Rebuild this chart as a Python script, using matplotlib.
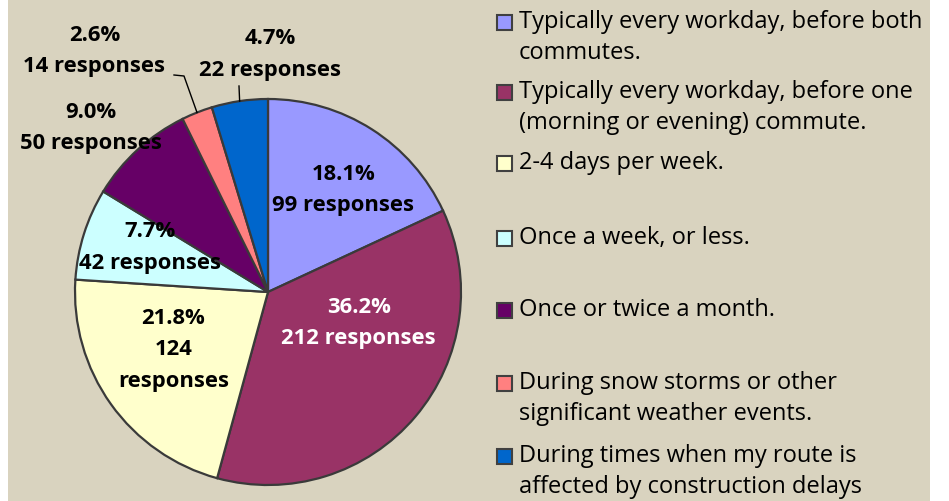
import numpy as np
import matplotlib.pyplot as plt
from matplotlib.patches import Rectangle

categories = [
    "Typically every workday, before both\ncommutes.",
    "Typically every workday, before one\n(morning or evening) commute.",
    "2-4 days per week.",
    "Once a week, or less.",
    "Once or twice a month.",
    "During snow storms or other\nsignificant weather events.",
    "During times when my route is\naffected by construction delays",
]
percents = [18.1, 36.2, 21.8, 7.7, 9.0, 2.6, 4.7]
responses = [99, 212, 124, 42, 50, 14, 22]

colors = ["#9999FF", "#993366", "#FFFFCC", "#CCFFFF", "#660066", "#FF8080", "#0066CC"]
text_colors = ["black", "white", "black", "black", "black", "black", "black"]
# label centres in pie-radius units, relative to the pie centre
label_xy = [(0.39, 0.53), (0.47, -0.16), (-0.49, -0.30), (-0.61, 0.23),
            (-0.92, 0.85), (-0.90, 1.25), (0.01, 1.23)]
legend_rows = [22, 92, 163, 238, 310, 383, 456]  # pixel rows of legend first lines
bg = "#D9D3BF"

W, H = 949, 501
cx, cy, R = 268, 292, 193

plt.rcParams['font.family'] = ['Open Sans', 'DejaVu Sans']
fig = plt.figure(figsize=(W / 100, H / 100), dpi=100, facecolor="white")
fig.patches.append(Rectangle((8 / W, 0), (930 - 8) / W, 1, transform=fig.transFigure,
                             facecolor=bg, edgecolor="none", zorder=-5))

ax = fig.add_axes([0, 0, 1, 1], zorder=1)
ax.set_facecolor("none")

wedges, _ = ax.pie(percents, colors=colors, startangle=90, counterclock=False,
                   radius=1, wedgeprops=dict(edgecolor="#3a3a3a", linewidth=1.6))
ax.set_xlim(-cx / R, (W - cx) / R)
ax.set_ylim(-(H - cy) / R, cy / R)
ax.set_aspect("equal")
ax.axis("off")

for i, w in enumerate(wedges):
    lx, ly = label_xy[i]
    if i == 2:
        txt = f"{percents[i]:.1f}%\n{responses[i]}\nresponses"
    else:
        txt = f"{percents[i]:.1f}%\n{responses[i]} responses"
    ax.text(lx, ly, txt, ha="center", va="center", fontsize=15.8, fontweight="bold",
            color=text_colors[i], linespacing=1.65, zorder=5)

# leader lines for the two small slices
for i in (5, 6):
    w = wedges[i]
    mid = np.deg2rad((w.theta1 + w.theta2) / 2)
    ex, ey = np.cos(mid), np.sin(mid)
    if i == 5:
        ax.plot([(174 - cx) / R, (184 - cx) / R, ex], [(cy - 75) / R, (cy - 76) / R, ey],
                color="black", lw=1.0)
    else:
        ax.plot([(239 - cx) / R, ex], [(cy - 86) / R, ey], color="black", lw=1.0)

# legend drawn by hand: box aligned with the first text line
for i, lab in enumerate(categories):
    ytop = legend_rows[i]
    fig.patches.append(Rectangle((497 / W, 1 - (ytop + 8) / H), 15 / W, 15 / H,
                                 transform=fig.transFigure, facecolor=colors[i],
                                 edgecolor="#404040", linewidth=1.5, zorder=3))
    fig.text(519 / W, 1 - (ytop - 12) / H, lab, ha="left", va="top", fontsize=17,
             color="black", linespacing=1.37)

fig.savefig("out.png", dpi=100, facecolor="white")
